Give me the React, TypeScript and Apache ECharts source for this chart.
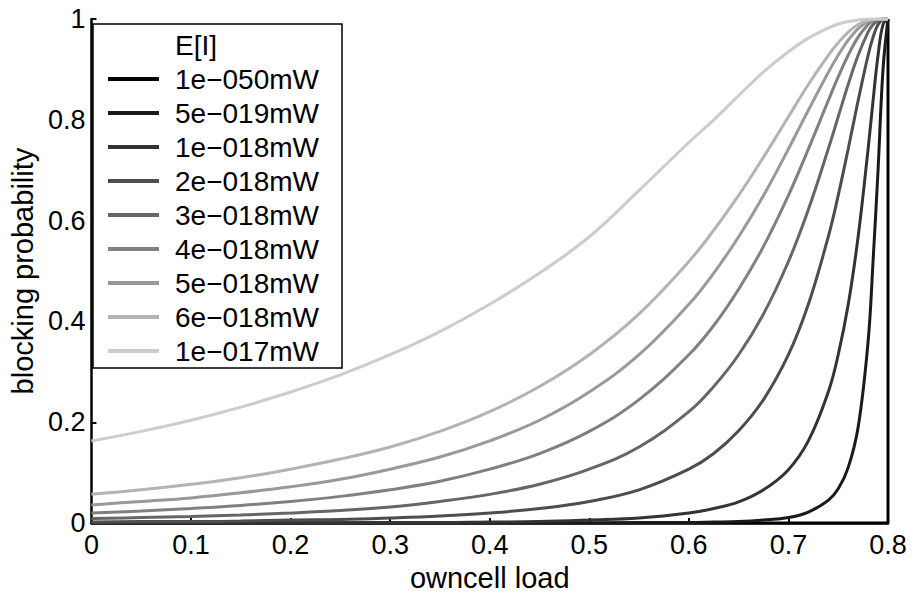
import React, { useEffect, useRef } from "react";
import * as echarts from "echarts";

const loadPoints = [0, 0.05, 0.1, 0.15, 0.2, 0.25, 0.3, 0.35, 0.4, 0.45, 0.5, 0.55, 0.6, 0.625, 0.65, 0.675, 0.7, 0.72, 0.74, 0.75, 0.76, 0.77, 0.78, 0.785, 0.79, 0.795, 0.8];

const seriesNames = ["1e−050mW", "5e−019mW", "1e−018mW", "2e−018mW", "3e−018mW", "4e−018mW", "5e−018mW", "6e−018mW", "1e−017mW"];
const seriesColors = ["#000000", "#1a1a1a", "#333333", "#4d4d4d", "#666666", "#808080", "#999999", "#b3b3b3", "#cccccc"];

const s1X = [0, 0.8, 0.8];
const s1Y = [0, 0, 1];
const s2 = [0, 0, 0, 0, 0, 0, 0, 0, 0, 0, 0, 0.001, 0.001, 0.002, 0.003, 0.006, 0.011, 0.022, 0.045, 0.068, 0.11, 0.19, 0.36, 0.52, 0.70, 0.90, 1];
const s3 = [0, 0, 0, 0, 0, 0, 0.001, 0.001, 0.002, 0.003, 0.006, 0.010, 0.020, 0.029, 0.042, 0.066, 0.106, 0.163, 0.260, 0.334, 0.433, 0.568, 0.742, 0.838, 0.928, 0.989, 1];
const s4 = [0.002, 0.003, 0.003, 0.004, 0.006, 0.007, 0.010, 0.014, 0.020, 0.029, 0.043, 0.066, 0.107, 0.138, 0.183, 0.245, 0.334, 0.434, 0.568, 0.650, 0.742, 0.838, 0.928, 0.964, 0.989, 0.999, 1];
const s5 = [0.009, 0.011, 0.013, 0.016, 0.020, 0.025, 0.032, 0.043, 0.057, 0.077, 0.107, 0.151, 0.221, 0.271, 0.334, 0.415, 0.519, 0.622, 0.742, 0.806, 0.870, 0.928, 0.974, 0.989, 0.997, 1, 1];
const s6 = [0.020, 0.024, 0.029, 0.035, 0.043, 0.053, 0.066, 0.083, 0.107, 0.138, 0.182, 0.245, 0.334, 0.392, 0.464, 0.549, 0.650, 0.742, 0.838, 0.885, 0.928, 0.964, 0.989, 0.996, 0.999, 1, 1];
const s7 = [0.036, 0.043, 0.050, 0.060, 0.072, 0.087, 0.107, 0.131, 0.163, 0.204, 0.260, 0.334, 0.434, 0.496, 0.568, 0.650, 0.742, 0.819, 0.894, 0.928, 0.958, 0.981, 0.995, 0.998, 1, 1, 1];
const s8 = [0.057, 0.066, 0.077, 0.090, 0.107, 0.127, 0.151, 0.182, 0.221, 0.271, 0.334, 0.415, 0.519, 0.581, 0.650, 0.726, 0.806, 0.870, 0.928, 0.953, 0.974, 0.989, 0.997, 0.999, 1, 1, 1];
const s9 = [0.163, 0.182, 0.204, 0.230, 0.260, 0.294, 0.334, 0.380, 0.434, 0.496, 0.568, 0.660, 0.755, 0.800, 0.848, 0.895, 0.935, 0.962, 0.982, 0.990, 0.995, 0.998, 1, 1, 1, 1, 1];

const xTicks = { min: 0, max: 0.8, interval: 0.1 };
const yTicks = { min: 0, max: 1, interval: 0.2 };

const FONT = "Liberation Sans, Arial, sans-serif";

export default function App() {
  const ref = useRef<HTMLDivElement>(null);
  useEffect(() => {
    if (!ref.current) return;
    const chart = echarts.init(ref.current, null, { renderer: "svg" });
    const curves = [s2, s3, s4, s5, s6, s7, s8, s9];
    const series: any[] = [
      {
        name: seriesNames[0],
        type: "line",
        data: s1X.map((x, i) => [x, s1Y[i]]),
        symbol: "none",
        lineStyle: { color: seriesColors[0], width: 3 },
        itemStyle: { color: seriesColors[0] },
      },
      ...curves.map((c, k) => ({
        name: seriesNames[k + 1],
        type: "line",
        data: loadPoints.map((x, i) => [x, c[i]]),
        symbol: "none",
        smooth: 0.4,
        lineStyle: { color: seriesColors[k + 1], width: 3 },
        itemStyle: { color: seriesColors[k + 1] },
      })),
    ];
    chart.setOption({
      animation: false,
      backgroundColor: "#ffffff",
      grid: { left: 86, right: 30, top: 19, bottom: 73, containLabel: false },
      xAxis: {
        type: "value",
        min: xTicks.min,
        max: xTicks.max,
        interval: xTicks.interval,
        name: "owncell load",
        nameLocation: "middle",
        nameGap: 33,
        nameTextStyle: { fontSize: 29, color: "#000", fontFamily: FONT },
        axisLine: { show: true, onZero: false, lineStyle: { color: "#000", width: 2.5 } },
        axisTick: { show: true, inside: true, length: 5, lineStyle: { color: "#000", width: 2 } },
        axisLabel: { fontSize: 27, color: "#000", fontFamily: FONT, margin: 8 },
        splitLine: { show: false },
      },
      yAxis: {
        type: "value",
        min: yTicks.min,
        max: yTicks.max,
        interval: yTicks.interval,
        name: "blocking probability",
        nameLocation: "middle",
        nameGap: 39,
        nameTextStyle: { fontSize: 29, color: "#000", fontFamily: FONT },
        axisLine: { show: true, onZero: false, lineStyle: { color: "#000", width: 2.5 } },
        axisTick: { show: true, inside: true, length: 5, lineStyle: { color: "#000", width: 2 } },
        axisLabel: { fontSize: 27, color: "#000", fontFamily: FONT, margin: 6 },
        splitLine: { show: false },
      },
      legend: {
        orient: "vertical",
        left: 108,
        top: 62,
        padding: 0,
        itemGap: 0,
        itemWidth: 51,
        itemHeight: 4,
        icon: "rect",
        selectedMode: false,
        data: seriesNames,
        formatter: (name: string) => `{t|${name}}`,
        textStyle: {
          fontSize: 28,
          color: "#000",
          fontFamily: FONT,
          lineHeight: 34,
          rich: { t: { fontSize: 28, color: "#000", fontFamily: FONT, lineHeight: 34, padding: [0, 0, 0, 11] } },
        },
      },
      graphic: [
        {
          type: "rect",
          z: 3,
          shape: { x: 93, y: 24, width: 249, height: 344 },
          style: { fill: "#ffffff", stroke: "#000", lineWidth: 1.5 },
        },
        {
          type: "text",
          z: 5,
          x: 175,
          y: 45,
          style: { text: "E[I]", font: `28px ${FONT}`, fill: "#000", verticalAlign: "middle", align: "left" },
        },
      ],
      series,
    });
    return () => chart.dispose();
  }, []);
  return <div ref={ref} style={{ position: "absolute", left: 0, top: 0, width: 918, height: 597 }} />;
}
